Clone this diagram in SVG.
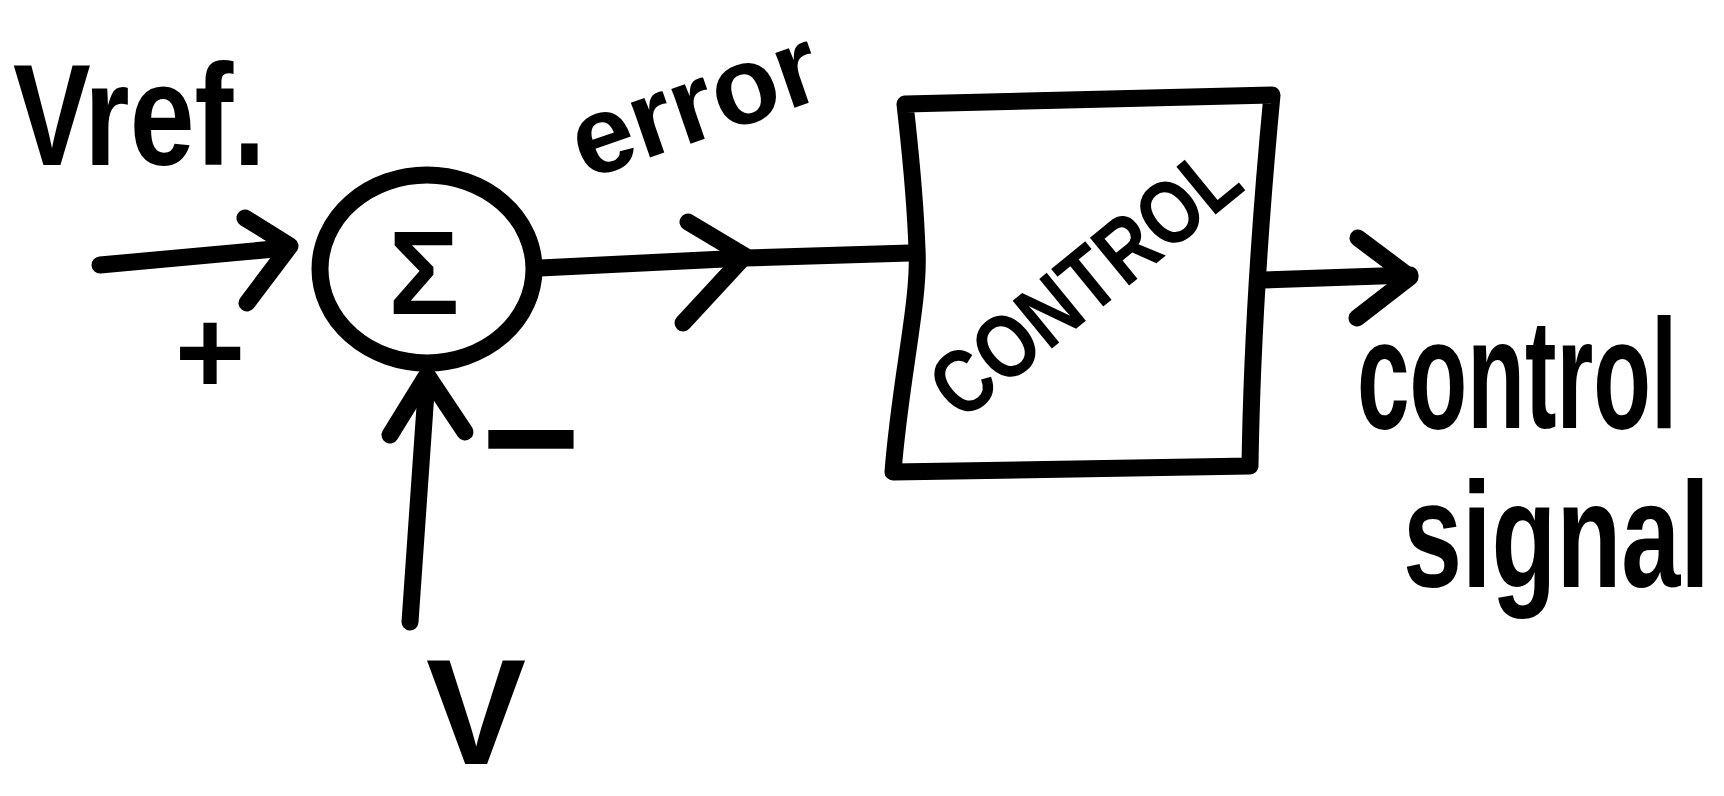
<svg xmlns="http://www.w3.org/2000/svg" width="1724" height="796" viewBox="0 0 1724 796">
  <style>
    .ink { fill: none; stroke: #000; stroke-width: 17; stroke-linecap: round; stroke-linejoin: round; }
    .hand { font-family: "Liberation Sans", "DejaVu Sans", sans-serif; font-weight: bold; fill: #000; }
  </style>
  <rect width="1724" height="796" fill="#fff"/>

  <g id="connectors">
    <path class="ink" d="M100,265 L285,248"/>
    <path class="ink" d="M245,218 L290,246 L247,303"/>
    <path class="ink" d="M540,268 L745,258 L910,253"/>
    <path class="ink" d="M688,222 L745,256 L683,323"/>
    <path class="ink" d="M410,622 L427,378"/>
    <path class="ink" d="M390,435 L427,375 L465,432"/>
    <path class="ink" d="M1262,280 L1410,275"/>
    <path class="ink" d="M1358,238 L1410,277 L1357,318"/>
  </g>

  <g id="node-sum">
    <ellipse class="ink" cx="427" cy="269" rx="107" ry="94"/>
    <text class="hand" x="424" y="314" font-size="118" text-anchor="middle">Σ</text>
  </g>

  <g id="node-control">
    <path class="ink" d="M905,104 L1272,95 C1262,200 1252,330 1250,466 L893,472 C900,380 920,300 917,250 C915,190 910,150 905,104 Z"/>
    <text class="hand" transform="translate(1084,281) rotate(-39.3) scale(0.83,1)" x="0" y="32" font-size="90" text-anchor="middle">CONTROL</text>
  </g>

  <g id="label-vref">
    <text class="hand" transform="translate(13,165) scale(0.804,1)" font-size="145">Vref.</text>
    <text class="hand" x="210" y="394" font-size="120" text-anchor="middle">+</text>
  </g>

  <g id="label-v">
    <text class="hand" x="476" y="764" font-size="150" text-anchor="middle">V</text>
    <text class="hand" x="531" y="496" font-size="170" font-weight="normal" text-anchor="middle">−</text>
  </g>

  <g id="label-error">
    <text class="hand" transform="translate(585,180) rotate(-19)" font-size="110">error</text>
  </g>

  <g id="label-output">
    <text class="hand" transform="translate(1357,428) scale(0.61,1)" font-size="155">control</text>
    <text class="hand" transform="translate(1403,587) scale(0.708,1)" font-size="150">signal</text>
  </g>
</svg>
